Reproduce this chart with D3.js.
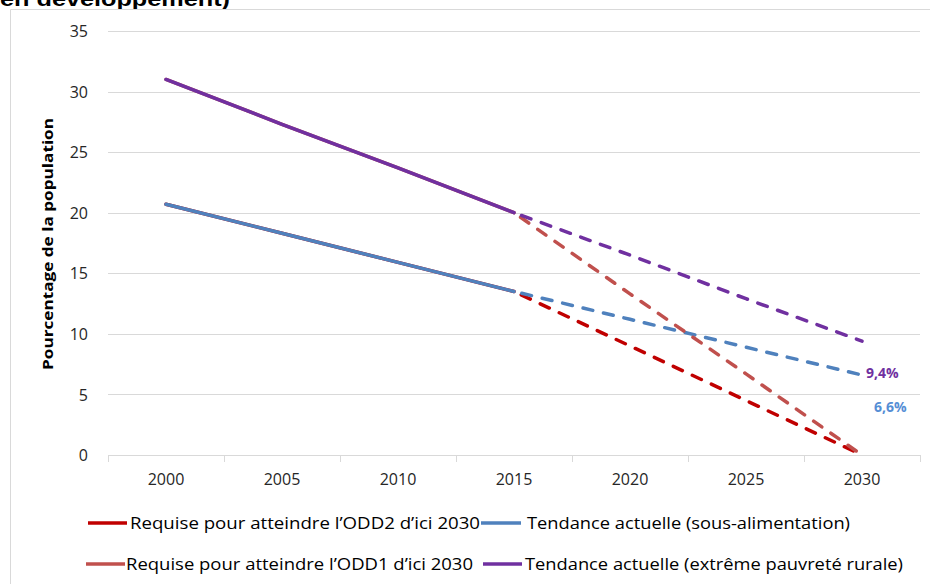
<!DOCTYPE html>
<html><head><meta charset="utf-8">
<script src="https://cdn.jsdelivr.net/npm/d3@7"></script>
<style>body{margin:0;background:#fff;}svg{display:block;}</style>
</head><body>
<svg id="c" width="930" height="584"></svg>
<script>
const years = [2000, 2005, 2010, 2015, 2020, 2025, 2030];
const yTicks = [0, 5, 10, 15, 20, 25, 30, 35];
const odd2 = [20.7, 18.3, 15.9, 13.5, 9.0, 4.5, 0];
const sousAlim = [20.7, 18.3, 15.9, 13.5, 11.2, 8.9, 6.6];
const odd1 = [31, 27.3, 23.7, 20, 13.3, 6.7, 0];
const pauvrete = [31, 27.3, 23.7, 20, 16.5, 12.9, 9.4];
const seriesNames = ["Requise pour atteindre l\u2019ODD2 d\u2019ici 2030", "Tendance actuelle (sous-alimentation)", "Requise pour atteindre l\u2019ODD1 d\u2019ici 2030", "Tendance actuelle (extrême pauvreté rurale)"];
const seriesColors = ["#C00000", "#4F81BD", "#C0504D", "#7030A0"];
const seriesData = [odd2, sousAlim, odd1, pauvrete];
const endLabels = ["", "6,6%", "", "9,4%"];
const titleText = "en développement)";
const yTitle = "Pourcentage de la population";

const svg = d3.select("#c");
const font = "'Open Sans', sans-serif";

// title (cropped at top, as in the source)
svg.append("text").attr("x", 0).attr("y", 6).attr("font-family", "'Liberation Sans', Arial, sans-serif")
  .attr("font-weight", "bold").attr("font-size", 20).attr("fill", "#000")
  .attr("textLength", 230).attr("lengthAdjust", "spacingAndGlyphs").text(titleText);

// frame
svg.append("path").attr("d", "M10.5,584 V9.5 H930").attr("fill", "none").attr("stroke", "#d9d9d9").attr("stroke-width", 1);

const x = d3.scaleBand().domain(years).range([108, 920]);
const y = d3.scaleLinear().domain([0, 35]).range([455, 31]);

// gridlines
svg.append("g").selectAll("line").data(yTicks.filter(d => d > 0)).join("line")
  .attr("x1", 108).attr("x2", 920).attr("y1", d => Math.round(y(d)) + 0.5).attr("y2", d => Math.round(y(d)) + 0.5)
  .attr("stroke", "#d9d9d9").attr("stroke-width", 1);

// y axis labels
const yAxis = d3.axisLeft(y).tickValues(yTicks).tickSize(0).tickPadding(20);
const gy = svg.append("g").attr("transform", "translate(108,0)").call(yAxis);
gy.select(".domain").remove();
gy.selectAll("text").attr("font-family", font).attr("font-size", 16).attr("fill", "#262626").attr("dy", "0.35em");

// x axis
const xAxis = d3.axisBottom(x).tickSize(0).tickPadding(18);
const gx = svg.append("g").attr("transform", "translate(0,455.5)").call(xAxis);
gx.select(".domain").attr("stroke", "#d9d9d9").attr("d", "M108,0H920");
gx.selectAll("text").attr("font-family", font).attr("font-size", 16).attr("fill", "#262626");
// category boundary ticks
const bounds = years.map(d => x(d)).concat([x(years[years.length - 1]) + x.bandwidth()]);
svg.append("g").selectAll("line").data(bounds).join("line")
  .attr("x1", d => Math.round(d) + 0.5).attr("x2", d => Math.round(d) + 0.5).attr("y1", 455).attr("y2", 462)
  .attr("stroke", "#d9d9d9");

// y title
svg.append("text").attr("transform", "translate(53,244) rotate(-90)").attr("text-anchor", "middle")
  .attr("font-family", font).attr("font-weight", "bold").attr("font-size", 15).attr("fill", "#000")
  .attr("textLength", 252).attr("lengthAdjust", "spacingAndGlyphs").text(yTitle);

// lines
const cx = d => x(d) + x.bandwidth() / 2;
const line = d3.line().x(d => cx(d[0])).y(d => y(d[1]));
seriesData.forEach((vals, i) => {
  const pts = years.map((yr, j) => [yr, vals[j]]);
  svg.append("path").attr("d", line(pts.slice(0, 4))).attr("fill", "none")
    .attr("stroke", seriesColors[i]).attr("stroke-width", 3.5).attr("stroke-linecap", "round").attr("stroke-linejoin", "round");
  svg.append("path").attr("d", line(pts.slice(3))).attr("fill", "none")
    .attr("stroke", seriesColors[i]).attr("stroke-width", 3.5).attr("stroke-linecap", "round")
    .attr("stroke-dasharray", "10,11").attr("stroke-dashoffset", -8);
});

// end labels
const labelPos = {1: {dx: 12, dy: 37}, 3: {dx: 4, dy: 37}};
seriesData.forEach((vals, i) => {
  if (!endLabels[i]) return;
  const last = years[years.length - 1];
  svg.append("text").attr("x", cx(last) + labelPos[i].dx).attr("y", y(vals[vals.length - 1]) + labelPos[i].dy)
    .attr("font-family", font).attr("font-weight", "bold").attr("font-size", 14)
    .attr("fill", i === 1 ? "#558ED5" : "#7030A0").text(endLabels[i]);
});

// legend
const legendItems = [
  {i: 0, lx: 88, lw: 39, tx: 130, tl: 350, yy: 523},
  {i: 1, lx: 481, lw: 40, tx: 527, tl: 323, yy: 523},
  {i: 2, lx: 86, lw: 39, tx: 126, tl: 347, yy: 564},
  {i: 3, lx: 483, lw: 39, tx: 525, tl: 378, yy: 564}
];
legendItems.forEach(it => {
  svg.append("line").attr("x1", it.lx).attr("x2", it.lx + it.lw).attr("y1", it.yy).attr("y2", it.yy)
    .attr("stroke", seriesColors[it.i]).attr("stroke-width", 3.5);
  svg.append("text").attr("x", it.tx).attr("y", it.yy + 6).attr("font-family", font).attr("font-size", 16)
    .attr("fill", "#000").attr("textLength", it.tl).attr("lengthAdjust", "spacingAndGlyphs").text(seriesNames[it.i]);
});
</script>
</body></html>
